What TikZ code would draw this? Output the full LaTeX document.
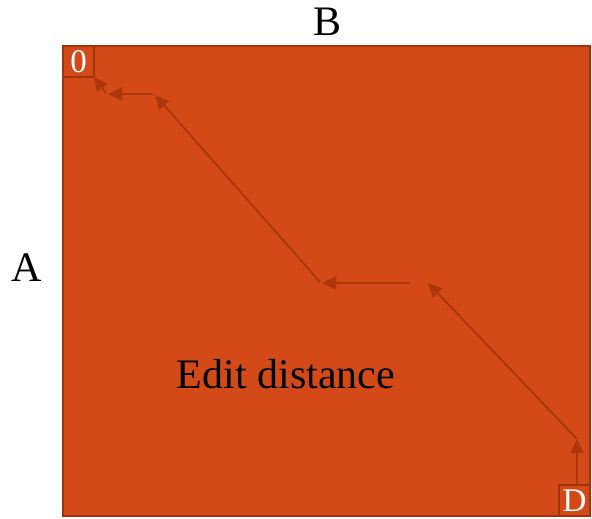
\documentclass[tikz,border=0pt]{standalone}
\usepackage{fontspec}
\setmainfont{Liberation Serif}
\usetikzlibrary{arrows.meta}
\definecolor{cellfill}{RGB}{211,74,24}
\definecolor{cellline}{RGB}{160,50,12}
\definecolor{pathline}{RGB}{175,54,10}

\begin{document}
\begin{tikzpicture}[x=1pt, y=-1pt,
      every node/.append style={inner sep=0pt, outer sep=0pt},
      cell/.style={draw=cellline, line width=2pt},
      label/.style={font=\fontsize{42}{42}\selectfont, text=black},
      corner/.style={cell, fill=cellfill, minimum width=31pt, minimum height=31pt,
                     font=\fontsize{33}{33}\selectfont, text=white},
      back/.style={draw=pathline, line width=2pt, -{Triangle[length=14pt,width=13pt]}}]
    \useasboundingbox (0,0) rectangle (592,519);
    \node (table) [cell, fill=cellfill, anchor=north west, minimum width=527pt, minimum height=470pt] at (63,46) {};
    \node (B) [label] at (328,22) {B};
    \node (A) [label] at (27,268) {A};
    \node (edit) [label] at (286,374) {Edit distance};
    \node (zero) [corner, anchor=north west] at (table.north west) {0};
    \node (D) [corner, anchor=south east] at (table.south east) {D};
    % the way back through the table
    \coordinate (p1) at (577,439);
    \coordinate (p2) at (428,283);
    \coordinate (q2) at (410,283);
    \coordinate (p3) at (322,283);
    \coordinate (q3) at (320,282);
    \coordinate (p4) at (155,95);
    \coordinate (q4) at (153,94);
    \coordinate (p5) at (108,94);
    \coordinate (q5) at (106,93);
    \draw [back] (D.north -| p1) -- (p1);
    \draw [back] (p1) -- (p2);
    \draw [back] (q2) -- (p3);
    \draw [back] (q3) -- (p4);
    \draw [back] (q4) -- (p5);
    \draw [back] (q5) -- (zero.south east);
\end{tikzpicture}
\end{document}
